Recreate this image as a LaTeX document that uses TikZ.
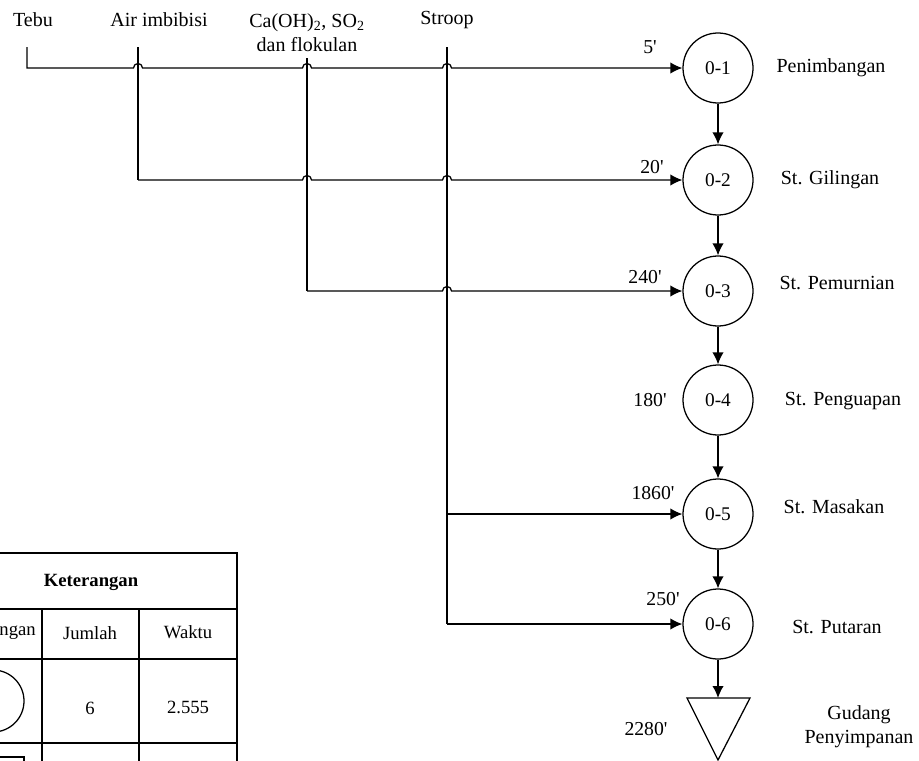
\documentclass[tikz,border=0pt]{standalone}
\usepackage{fontspec}
\setmainfont{Liberation Serif}
\usetikzlibrary{arrows.meta,calc}

% small upward jump of a horizontal line over a vertical one at (#1,#2)
\newcommand\hop[2]{-- (#1-4.5,#2) arc[start angle=180,end angle=360,radius=4.5]}
\newcommand\mnt{\textquotesingle}

\begin{document}
\begin{tikzpicture}[x=0.75pt,y=-0.75pt,
  line/.style={draw=black,line width=0.95pt},
  flow/.style={line,-{Latex[length=9pt,width=8.5pt]}},
  proc/.style={circle,draw=black,line width=0.95pt,minimum size=52.5pt,inner sep=0pt,
    font=\fontsize{14.5}{17}\selectfont},
  lbl/.style={inner sep=0pt,font=\fontsize{15}{18}\selectfont},
  tlbl/.style={inner sep=0pt,font=\fontsize{14.8}{17}\selectfont},
  cell/.style={inner sep=0pt,font=\fontsize{14}{16}\selectfont}]

\useasboundingbox (0,0) rectangle (919,760);
\clip (0,0) rectangle (919,760);

% input labels
\node[lbl] (tebu) at (33,20) {Tebu};
\node[lbl] (air) at (159,20) {Air imbibisi};
\node[lbl,align=center] (kimia) at (307,33) {Ca(OH)\textsubscript{2}, SO\textsubscript{2}\\dan flokulan};
\node[lbl] (stroop) at (447,20) {Stroop};

\coordinate (tebuTop) at (27,47);
\coordinate (airTop) at (138,47);
\coordinate (kimiaTop) at (307,58);
\coordinate (stroopTop) at (447,47);

% process stations
\node[proc] (c1) at (718,68) {0-1};
\node[proc] (c2) at (718,180) {0-2};
\node[proc] (c3) at (718,291) {0-3};
\node[proc] (c4) at (718,400) {0-4};
\node[proc] (c5) at (718,514) {0-5};
\node[proc] (c6) at (718,624) {0-6};
\coordinate (gudang) at (718,698);
\draw[line,line join=miter] (687,698) -- (750,698) -- (718,760) -- cycle;

% station names
\node[lbl] (n1) at (831,68) {Penimbangan};
\node[lbl] (n2) at (830,180) {St. Gilingan};
\node[lbl] (n3) at (837,283) {St. Pemurnian};
\node[lbl] (n4) at (843,401) {St. Penguapan};
\node[lbl] (n5) at (834,507) {St. Masakan};
\node[lbl] (n6) at (837,627) {St. Putaran};
\node[lbl,align=center] (n7) at (859,727) {Gudang\\Penyimpanan};

% times
\node[tlbl] (t1) at (650,47) {5\mnt};
\node[tlbl] (t2) at (652,167) {20\mnt};
\node[tlbl] (t3) at (645,277) {240\mnt};
\node[tlbl] (t4) at (650,400) {180\mnt};
\node[tlbl] (t5) at (653,493) {1860\mnt};
\node[tlbl] (t6) at (663,599) {250\mnt};
\node[tlbl] (t7) at (646,729) {2280\mnt};

% feed lines
\draw[line] (airTop) -- (138,180);
\draw[line] (kimiaTop) -- (307,291);
\draw[line] (stroopTop) -- (447,624);
\draw[flow] (tebuTop) -- (27,68) \hop{138}{68} \hop{307}{68} \hop{447}{68} -- (c1.west);
\draw[flow] (138,180) \hop{307}{180} \hop{447}{180} -- (c2.west);
\draw[flow] (307,291) \hop{447}{291} -- (c3.west);
\draw[flow] (447,514) -- (c5.west);
\draw[flow] (447,624) -- (c6.west);

% main sequence
\draw[flow] (c1) -- (c2);
\draw[flow] (c2) -- (c3);
\draw[flow] (c3) -- (c4);
\draw[flow] (c4) -- (c5);
\draw[flow] (c5) -- (c6);
\draw[flow] (c6) -- (gudang);

% legend table
\draw[line] (-5,553) -- (237,553) -- (237,770);
\draw[line] (-5,609) -- (237,609);
\draw[line] (-5,659) -- (237,659);
\draw[line] (-5,743) -- (237,743);
\draw[line] (42,609) -- (42,770);
\draw[line] (139,609) -- (139,770);
\node[cell,font=\fontsize{14}{16}\selectfont\bfseries] (ket) at (91,582) {Keterangan};
\node[cell,anchor=east] (lamb) at (36,633) {ngan};
\node[cell] (jml) at (90,633) {Jumlah};
\node[cell] (wkt) at (188,632) {Waktu};
\draw[line] (-7,701) circle[radius=31];
\node[cell] (jml1) at (90,708) {6};
\node[cell] (wkt1) at (188,707) {2.555};
\draw[line] (-10,757) -- (24,757) -- (24,790);
\end{tikzpicture}
\end{document}
